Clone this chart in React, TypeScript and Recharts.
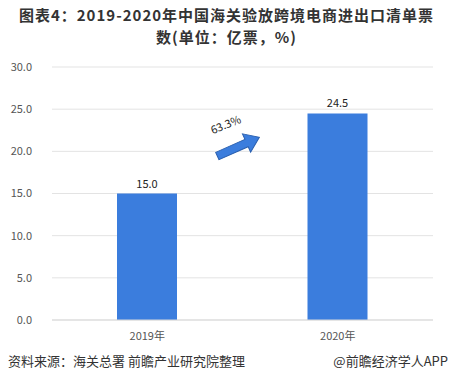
import React from "react";
import { BarChart, Bar, XAxis, YAxis, CartesianGrid, LabelList, ReferenceDot } from "recharts";

const years = ["2019年", "2020年"];
const clearances = [15.0, 24.5];
const yTicks = [0, 5, 10, 15, 20, 25, 30];
const growthLabel = "63.3%";

const data = years.map((year, i) => ({ year, value: clearances[i] }));

const FONT = '"Noto Sans CJK SC", "Noto Sans", sans-serif';
const BLUE = "#3b7ddd";

// arrow drawn around the reference point, tilted up toward 2020
const GrowthArrow = ({ cx, cy }: any) => {
  if (cx == null || cy == null) return null;
  const x = cx + 92;
  const y = cy;
  return (
    <g>
      <g transform={`translate(${x},${y}) rotate(-24)`}>
        <path
          d="M-24,-4 L8,-4 L8,-10 L22,0 L8,10 L8,4 L-24,4 Z"
          fill={BLUE}
          stroke="#2a5fae"
          strokeWidth={1}
        />
      </g>
      <text
        x={x - 12}
        y={y - 18}
        transform={`rotate(-22 ${x - 12} ${y - 18})`}
        textAnchor="middle"
        fontSize={11}
        fill="#222"
        fontFamily={FONT}
      >
        {growthLabel}
      </text>
    </g>
  );
};

export default function App() {
  return (
    <div
      style={{
        position: "absolute",
        left: 0,
        top: 0,
        width: 453,
        height: 382,
        background: "#fff",
        fontFamily: FONT,
      }}
    >
      <div
        style={{
          position: "absolute",
          top: 4,
          left: 0,
          width: 453,
          textAlign: "center",
          fontWeight: "bold",
          fontSize: 15,
          letterSpacing: 1,
          lineHeight: "22px",
          color: "#333",
        }}
      >
        图表4：2019-2020年中国海关验放跨境电商进出口清单票
        <br />
        数(单位：亿票，%)
      </div>
      <div style={{ position: "absolute", top: 0, left: 0 }}>
        <BarChart
          width={453}
          height={345}
          data={data}
          margin={{ top: 67, right: 20, left: 0, bottom: 0 }}
        >
          <CartesianGrid vertical={false} stroke="#e3e3e3" />
          <XAxis
            dataKey="year"
            height={25}
            axisLine={{ stroke: "#d9d9d9" }}
            tickLine={false}
            tick={{ fontSize: 11, fill: "#555", fontFamily: FONT }}
            tickMargin={6}
          />
          <YAxis
            width={52}
            domain={[0, 30]}
            ticks={yTicks}
            axisLine={false}
            tickLine={false}
            tickMargin={14}
            tick={{ fontSize: 11, fill: "#555", fontFamily: FONT }}
            tickFormatter={(v: number) => v.toFixed(1)}
          />
          <Bar dataKey="value" fill={BLUE} barSize={60} isAnimationActive={false}>
            <LabelList
              dataKey="value"
              position="top"
              offset={6}
              formatter={(v: any) => Number(v).toFixed(1)}
              style={{ fontSize: 11, fill: "#222", fontFamily: FONT }}
            />
          </Bar>
          <ReferenceDot
            x="2019年"
            y={20.6}
            r={0}
            ifOverflow="visible"
            shape={<GrowthArrow />}
          />
        </BarChart>
      </div>
      <div
        style={{
          position: "absolute",
          left: 8,
          top: 351,
          fontSize: 13,
          color: "#333",
        }}
      >
        资料来源：海关总署 前瞻产业研究院整理
      </div>
      <div
        style={{
          position: "absolute",
          right: 5,
          top: 351,
          fontSize: 13,
          color: "#333",
        }}
      >
        @前瞻经济学人APP
      </div>
    </div>
  );
}
